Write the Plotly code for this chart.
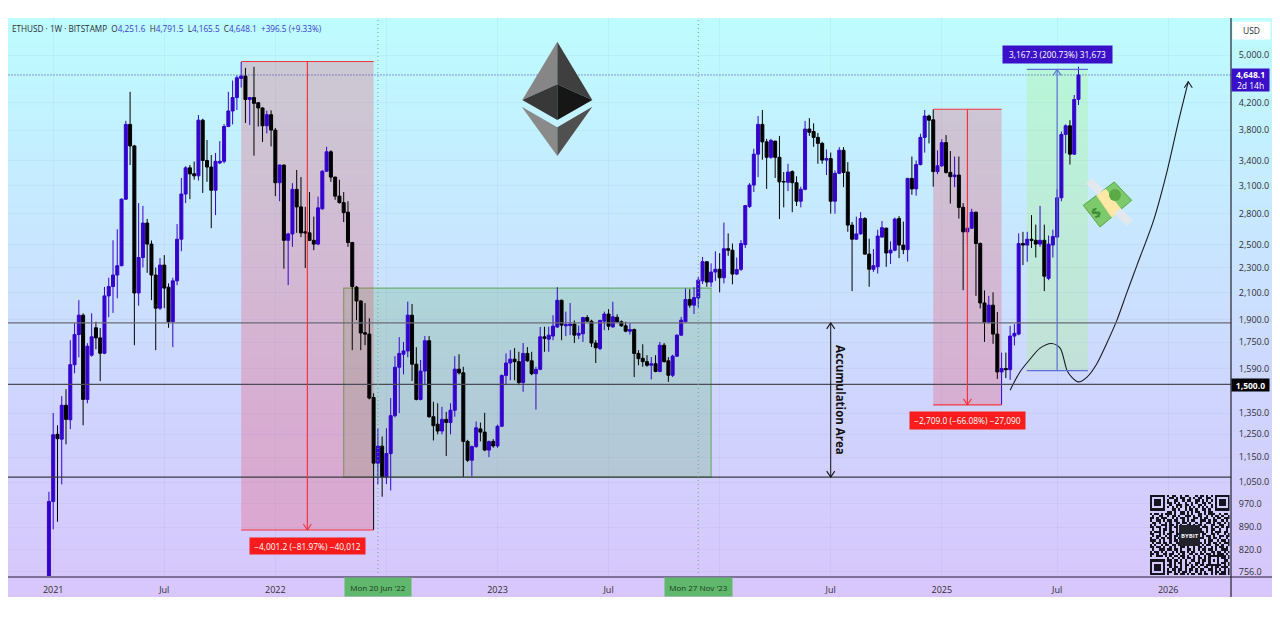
import plotly.graph_objects as go
import pandas as pd
import numpy as np

# Weekly ETHUSD candles, first bar is the week of 28 Dec 2020
first_week = "2020-12-28"
opens = [737,978,1250,1228,1390,1318,1612,1800,1932,1420,1669,1845,1778,1681,2073,2145,2237,2315,2952,3880,3586,2095,2385,2705,2505,2237,1982,2320,2140,1886,
         2190,2550,3008,3310,3240,3215,3940,3400,3320,3050,3370,3390,3850,4075,4280,4590,4630,4250,4280,4200,4120,3860,4020,3800,3135,3344,2540,2600,3060,2870,
         2620,2610,2540,2505,2850,3270,3510,3200,2985,2915,2815,2520,2140,2035,1812,1803,1430,1125,1197,1070,1165,1338,1597,1675,1695,1932,1615,1420,1575,1760,
         1333,1297,1265,1320,1305,1365,1586,1565,1218,1137,1195,1275,1260,1180,1218,1198,1287,1550,1622,1645,1630,1510,1680,1635,1560,1585,1785,1770,1790,1850,
         2040,1858,1860,1870,1796,1805,1915,1890,1745,1710,1890,1940,1850,1917,1886,1858,1822,1833,1680,1650,1630,1609,1618,1573,1731,1635,1551,1663,1796,1886,
         2046,2004,2057,2190,2349,2180,2262,2285,2215,2463,2450,2245,2285,2500,2873,3108,3480,3880,3640,3440,3650,3440,3150,3140,3265,3135,2930,3060,3815,3780,
         3700,3620,3405,3425,2930,3245,3530,3260,2685,2550,2600,2750,2415,2285,2305,2570,2655,2425,2450,2750,2496,2455,3185,3065,3350,3700,4000,3945,3265,3335,
         3630,3255,3205,3224,2865,2620,2655,2815,2510,2020,1880,2004,1803,1570,1590,1583,1790,1803,2510,2496,2550,2540,2505,2540,2210,2496,2570,2967,3740,3860,
         3480,4251.6]
highs = [1013,1351,1292,1437,1474,1763,1876,2041,1945,1744,1945,1886,1843,2142,2215,2540,2645,2960,3930,4370,3600,2910,2880,2747,2538,2300,2380,2406,2170,2215,
         2695,3190,3330,3345,3388,4015,3960,3665,3469,3495,3650,3885,4370,4555,4640,4875,4770,4285,4790,4210,4130,4080,4085,3830,3350,3350,2610,3130,3284,3200,
         2870,3030,2770,2980,3280,3575,3530,3205,3170,3030,2930,2525,2150,2040,2019,1910,1452,1278,1240,1278,1427,1663,1783,1752,2030,2012,1719,1640,1790,1790,
         1408,1400,1382,1357,1400,1663,1675,1600,1225,1200,1310,1305,1352,1222,1228,1295,1555,1680,1700,1713,1690,1745,1719,1690,1600,1850,1852,1852,1932,2140,
         2045,1957,2020,1895,1860,1920,1932,1900,1763,1900,1957,1975,2029,1938,1895,1886,1875,1840,1700,1737,1669,1657,1669,1752,1745,1657,1672,1800,1920,2130,
         2125,2140,2220,2390,2350,2335,2440,2423,2710,2605,2510,2385,2542,2890,3130,3550,4000,4090,3680,3680,3655,3720,3260,3360,3280,3210,3090,3930,3970,3895,
         3760,3640,3540,3500,3280,3570,3570,3380,2715,2770,2815,2765,2555,2460,2640,2725,2660,2530,2760,2775,2720,3190,3450,3400,3750,4090,4020,4100,3530,3675,
         3732,3520,3450,3450,2910,2790,2850,2820,2520,2115,2073,2100,1955,1685,1685,1858,1870,2605,2620,2620,2785,2690,2880,2690,2585,2640,3060,3780,3880,3940,
         4320,4791.5]
lows = [715,883,908,1041,1205,1274,1562,1656,1292,1400,1660,1706,1518,1675,1918,1948,2055,2310,2945,3344,1731,2000,2300,2255,2041,1700,1968,1982,1845,1719,
        2156,2441,2910,2952,3170,3160,3020,3145,2655,2785,3355,3365,3840,3880,4090,4440,3900,3871,3460,3850,3640,3755,3580,2985,2930,2290,2156,2480,2610,2570,
        2295,2535,2450,2495,2840,3260,3145,2945,2905,2715,2480,1700,1897,1700,1731,1420,881,1042,995,1042,1018,1330,1351,1556,1657,1519,1415,1415,1496,1328,
        1222,1250,1250,1155,1250,1333,1555,1069,1130,1072,1190,1218,1175,1150,1190,1190,1285,1496,1523,1523,1496,1460,1630,1551,1368,1580,1690,1690,1763,1845,
        1763,1790,1796,1745,1770,1752,1885,1720,1622,1700,1829,1829,1848,1880,1852,1815,1800,1541,1609,1600,1600,1528,1568,1568,1625,1514,1541,1660,1790,1880,
        1985,1940,1987,2165,2143,2143,2190,2100,2170,2400,2163,2237,2270,2470,2860,3030,3200,3410,3065,3420,3190,2745,2865,3040,2815,2880,2865,3050,3720,3575,
        3360,3360,3224,2800,2800,3235,3085,2620,2110,2545,2595,2410,2143,2263,2250,2565,2305,2330,2440,2380,2415,2350,3000,2990,3340,3500,3620,3090,3235,3320,
        3240,2905,3085,2750,2117,2500,2650,2073,1980,1752,1875,1740,1530,1392,1535,1525,1730,1795,2320,2348,2470,2385,2480,2110,2196,2385,2565,2930,3490,3350,
        3470,4165.5]
closes = [978,1248,1230,1390,1320,1612,1800,1932,1420,1725,1785,1778,1681,2073,2145,2237,2315,2952,3880,3586,2095,2385,2705,2505,2237,1982,2320,2133,1886,2190,
          2550,3008,3310,3237,3215,3940,3400,3320,3050,3390,3390,3850,4075,4280,4600,4630,4250,4280,4190,4120,3860,4020,3800,3135,3344,2540,2600,3060,2870,2610,
          2610,2540,2505,2860,3270,3510,3200,2985,2915,2810,2520,2145,2035,1810,1803,1427,1125,1197,1070,1165,1338,1597,1680,1695,1932,1615,1420,1575,1760,1333,
          1290,1265,1320,1305,1365,1586,1565,1218,1137,1195,1280,1260,1180,1217,1198,1287,1550,1622,1645,1630,1510,1680,1635,1560,1585,1785,1775,1796,1856,2040,
          1863,1866,1870,1796,1808,1915,1890,1745,1715,1895,1940,1856,1920,1886,1858,1822,1833,1680,1648,1630,1609,1618,1573,1731,1630,1551,1663,1796,1897,2046,
          2004,2060,2196,2349,2180,2262,2285,2215,2463,2450,2245,2282,2510,2883,3108,3480,3880,3640,3440,3660,3440,3145,3145,3260,3135,2930,3060,3815,3770,3700,
          3620,3405,3425,2930,3245,3530,3255,2685,2550,2600,2750,2415,2285,2315,2580,2660,2425,2450,2745,2496,2455,3185,3065,3350,3700,4000,3940,3265,3335,3630,
          3255,3205,3224,2865,2620,2655,2815,2510,2020,1880,2004,1803,1570,1590,1583,1790,1808,2510,2496,2550,2540,2505,2540,2228,2505,2575,2967,3740,3860,3480,
          4250,4648.1]

price_ticks = [5000,4200,3800,3400,3100,2800,2500,2300,2100,1900,1750,1590,1350,1250,1150,1050,970,890,820,756]
time_ticks = ["2021-01-04","2021-07-05","2022-01-03","2022-07-04","2023-01-02","2023-07-03","2024-01-01","2024-07-01","2024-12-30","2025-07-07","2026-01-05"]
# the Jul 2022 and 2024 labels sit behind the green crosshair tags in the picture
time_labels = ["2021","Jul","2022","","2023","Jul","","Jul","2025","Jul","2026"]

# levels and measure boxes
levels = [1878, 1500, 1069]
last_price = 4648.1
drop1 = {"start": 45, "end": 76, "mid": 60.5, "top": 4882, "bottom": 881}
drop2 = {"start": 207, "end": 223, "mid": 215, "top": 4101, "bottom": 1392}
rise = {"start": 228.9, "end": 243.2, "mid": 236, "top": 4744, "bottom": 1577}
accum = {"start": 69, "end": 155, "top": 2133, "bottom": 1069}

# hand drawn projection
curve_weeks = [225,227.3,229.7,232,234.7,236.7,238.3,239.4,241,243,245.3,247.6,250,252.3,254.7,258.6,261.8,264.3,266.7]
curve_prices = [1469,1570,1646,1713,1742,1713,1580,1541,1514,1541,1618,1742,1897,2096,2320,2735,3284,3895,4535]

UP = "#3404cc"
DOWN = "#000000"
FONT = "Open Sans"
# the page body keeps its 8px margin, so the figure is placed 8px in
W, H = 1280, 639
OFF = 8


def wk(k):
    # week index -> date on the time axis
    return pd.Timestamp(first_week) + pd.Timedelta(days=7 * k)


def px(x):
    return max(0, x - OFF) / (W - OFF)


def py(y):
    return 1 - (y - OFF) / (H - OFF)


def poly(points):
    return "M " + " L ".join(f"{px(x):.5f},{py(y):.5f}" for x, y in points) + " Z"


dates = pd.date_range(first_week, periods=len(closes), freq="7D")

fig = go.Figure()

# background gradient lives on the first axes so it stays under everything
fig.add_trace(go.Heatmap(
    x=[0, 1], y=[0, 1], z=[[0, 0], [1, 1]], zsmooth="best", showscale=False, hoverinfo="skip",
    colorscale=[[0, "#d8c6fc"], [0.33, "#cfd4fe"], [0.62, "#c8e6ff"], [1, "#bdfcff"]],
    xaxis="x", yaxis="y"))

fig.add_trace(go.Candlestick(
    x=dates, open=opens, high=highs, low=lows, close=closes, xaxis="x2", yaxis="y2",
    increasing=dict(line=dict(color=UP, width=1), fillcolor=UP),
    decreasing=dict(line=dict(color=DOWN, width=1), fillcolor=DOWN),
    whiskerwidth=0, showlegend=False))

fig.add_trace(go.Scatter(
    x=[wk(k) for k in curve_weeks], y=curve_prices, mode="lines", xaxis="x2", yaxis="y2",
    line=dict(color="#1a1a24", width=1.1, shape="spline", smoothing=0.8), showlegend=False, hoverinfo="skip"))

# QR code, rows
qr_rows = [
    "#######.#.##..#.##...#.##.#.#.#######",
    "#.....#..##.#.##..#.#.##..##..#.....#",
    "#.###.#.#..##..#.##..##.#.#.#.#.###.#",
    "#.###.#.##.#.#..#..#.#..##.#..#.###.#",
    "#.###.#..#..###.##.#..##.#..#.#.###.#",
    "#.....#.#.#.#.#.#.#.#.#.#.#.#.#.....#",
    "#######...##.#..#.##.#..##.#..#######",
    "........##.#..##.#.#.##..#.##........",
    "#.##.#.###.#..##.#.#..##.#.###..#.##.#",
    ".#..##..#.##.#..###.#.##..#.#.##.#..#",
    "##.#.###..#.#.##.#..##.#.##..#.##.###",
    "#..##.#.##.##..#.#.##..###.#.##..#.#.",
    ".##.#..#.#..##.##.#..#.#..##.#.##.#.#",
    "#.#..###.##.#.#..##.#.##.#..##..##..#",
    "##.##..#.#.##......#.#..###.#.##.#.##",
    ".#..#.##.#..#.......##.#..#.##..#..#.",
    "#.###.#..##.#........#.##.#.#.###.##.",
    "##..#.#.##..##.......#..##..##.#..#.#",
    ".#.##..#.#.##........##.#.##.#..##.##",
    "#..#.##.##.#.#.......#.##..#.##.#..#.",
    "###.#.#..#.##........##..#.##..#.##.#",
    ".#.##.##.#..##.#..#.#.##.#.#.##.#.###",
    "#.#..#.##.##.#.##.#.##..#.##..##.#..#",
    "##.##.#..#.#..##.#..#.##.#..#.#.##.#.",
    ".#..###.##.##.#..##.#.#.##.##.#..###.",
    "#.##.#.#..#.#.##.#.##..#.#..##.##.#.#",
    "##.#..##.##..#.#..##.#.##.##.#.###.#.",
    "#..###.#.#.##.##.#..#.#..#.########.#",
    "........#.#..#.#.##.#.##.#.#...#.##.#",
    "#######.##.##.#.#..##.#.##.#.#.#..##.",
    "#.....#..#.#.##.#.#..##.#..#...#.##.#",
    "#.###.#.##.#..#.##.#.#.##.#######.#.#",
    "#.###.#..#.##.#.#..##.#..##.#.##.###.",
    "#.###.#.#.##.##.#.##.#.##..##.#.#.#.#",
    "#.....#.##.#.#.##.#..#.#.#..#.##.##.#",
    "#######.#..##.##.#.##.##.##.#.#.###.#",
]
qr = [[1 if c == "#" else 0 for c in row.ljust(37, ".")[:37]] for row in qr_rows]
fig.add_trace(go.Heatmap(
    z=qr, showscale=False, hoverinfo="skip", xaxis="x3", yaxis="y3", zmin=0, zmax=1,
    colorscale=[[0, "rgba(0,0,0,0)"], [0.5, "rgba(0,0,0,0)"], [0.5, "#14141f"], [1, "#14141f"]]))

shapes = []


def rect(s, fill, line=None):
    shapes.append(dict(type="rect", xref="x2", yref="y2", x0=wk(s["start"]), x1=wk(s["end"]), y0=s["bottom"], y1=s["top"],
                       fillcolor=fill, layer="below", line=dict(color=line, width=1.2) if line else dict(width=0)))


def hline(price, color, width, dash="solid", k0=-20, k1=290):
    shapes.append(dict(type="line", xref="x2", yref="y2", x0=wk(k0), x1=wk(k1), y0=price, y1=price,
                       line=dict(color=color, width=width, dash=dash)))


def vline(k, p0, p1, color, width=1.2, dash="solid"):
    shapes.append(dict(type="line", xref="x2", yref="y2", x0=wk(k), x1=wk(k), y0=p0, y1=p1,
                       line=dict(color=color, width=width, dash=dash)))


def chevron(k, price, up, color):
    # small open arrow head, sized in pixels and anchored on the data
    s = -6 if up else 6
    shapes.append(dict(type="path", xref="x2", yref="y2", xsizemode="pixel", ysizemode="pixel",
                       xanchor=wk(k), yanchor=price, path=f"M -4,{s} L 0,0 L 4,{s}",
                       line=dict(color=color, width=1.1)))


rect(accum, "rgba(76,175,80,0.22)", "#6bb36e")
rect(drop1, "rgba(242,54,69,0.24)")
rect(drop2, "rgba(242,54,69,0.24)")
rect(rise, "rgba(170,245,130,0.30)")

for p, c, w in zip(levels, ["#6a6a78", "#4c4c58", "#3a3a46"], [1.4, 1.4, 1.1]):
    hline(p, c, w)
hline(last_price, "#3a3aa8", 1, "1px,2px")
for d in ["2022-06-20", "2023-11-27"]:
    shapes.append(dict(type="line", xref="x2", yref="paper", x0=d, x1=d, y0=py(577), y1=py(18),
                       line=dict(color="#66ad7c", width=1, dash="1px,3px")))

# measure tools
for m in [drop1, drop2]:
    for p in [m["top"], m["bottom"]]:
        hline(p, "#f4343c", 1.1, k0=m["start"], k1=m["end"])
    vline(m["mid"], m["top"], m["bottom"], "#f4343c")
    chevron(m["mid"], m["bottom"], False, "#f4343c")
for p in [rise["top"], rise["bottom"]]:
    hline(p, "#5b6fd6", 1.3, k0=rise["start"], k1=rise["end"])
vline(rise["mid"], rise["bottom"], rise["top"], "#5b6fd6")
chevron(rise["mid"], rise["top"], True, "#5b6fd6")
chevron(curve_weeks[-1], curve_prices[-1], True, "#1a1a24")

# accumulation arrow
vline(183, levels[0], levels[2], "#111111", 1)
chevron(183, levels[0], True, "#111111")
chevron(183, levels[2], False, "#111111")

# axis lines
shapes.append(dict(type="line", xref="paper", yref="paper", x0=px(7), x1=px(1273), y0=py(577), y1=py(577),
                   line=dict(color="#7d7099", width=2)))
shapes.append(dict(type="line", xref="paper", yref="paper", x0=px(1231), x1=px(1231), y0=py(18), y1=py(597),
                   line=dict(color="#23232e", width=1.2)))

# ethereum logo
logo = [([(557.3, 41.7), (522.3, 100), (557.3, 84.3)], "#868686"),
        ([(557.3, 41.7), (592.3, 100), (557.3, 84.3)], "#3f3f3f"),
        ([(522.3, 100), (557.3, 84.3), (557.3, 120)], "#383838"),
        ([(592.3, 100), (557.3, 84.3), (557.3, 120)], "#161616"),
        ([(521.7, 106.7), (557.3, 127.3), (557.3, 156)], "#8a8a8a"),
        ([(592.3, 106.7), (557.3, 127.3), (557.3, 156)], "#505050")]
for pts, c in logo:
    shapes.append(dict(type="path", xref="paper", yref="paper", path=poly(pts), fillcolor=c, line=dict(width=0)))

# flying money drawing
money = [([(1083.3, 205.3), (1114.3, 182), (1131.7, 200.3), (1100, 227)], "#7cca6b", "#55a64a"),
         ([(1096.7, 195.3), (1105.7, 189.3), (1121.7, 210.3), (1111.7, 217)], "#ffe7a6", "#ffe7a6")]
for pts, c, lc in money:
    shapes.append(dict(type="path", xref="paper", yref="paper", path=poly(pts), fillcolor=c, line=dict(color=lc, width=1)))
shapes.append(dict(type="circle", xref="paper", yref="paper", x0=px(1109), x1=px(1121), y0=py(201), y1=py(189),
                   fillcolor="#5aaa48", line=dict(width=0)))
for (x0, y0, x1, y1) in [(1089, 181, 1101, 192), (1117, 211, 1130, 223)]:
    shapes.append(dict(type="line", xref="paper", yref="paper", x0=px(x0), x1=px(x1), y0=py(y0), y1=py(y1),
                       line=dict(color="#e3e8ee", width=8)))

# dark tile in the middle of the QR code
shapes.append(dict(type="rect", xref="paper", yref="paper", x0=px(1179), x1=px(1200), y0=py(546), y1=py(525),
                   fillcolor="#22222c", line=dict(width=0)))

annotations = []


def text(x, y, s, size=9.5, color="#2e2e38", **kw):
    annotations.append(dict(xref="paper", yref="paper", x=px(x), y=py(y), text=s, showarrow=False,
                            font=dict(family=FONT, size=size, color=color), **kw))


def box(x0, x1, y0, y1, s, bg, color="#ffffff", size=8.4):
    annotations.append(dict(xref="paper", yref="paper", x=px((x0 + x1) / 2), y=py((y0 + y1) / 2), text=s, showarrow=False,
                            width=x1 - x0, height=y1 - y0, bgcolor=bg, borderpad=0, xanchor="center", yanchor="middle",
                            font=dict(family=FONT, size=size, color=color)))


blue = "#3a3ad0"
header = ("ETHUSD · 1W · BITSTAMP &nbsp;"
          f"O<span style='color:{blue}'>4,251.6</span> &nbsp;H<span style='color:{blue}'>4,791.5</span> &nbsp;"
          f"L<span style='color:{blue}'>4,165.5</span> &nbsp;C<span style='color:{blue}'>4,648.1</span> &nbsp;"
          f"<span style='color:{blue}'>+396.5 (+9.33%)</span>")
text(10, 29, header, size=8.2, xanchor="left", yanchor="middle")

box(1233, 1270, 22, 39, "USD", "#ffffff", "#2e2e38", 8.5)
box(1232, 1269, 69, 91, "<b>4,648.1</b><br>2d 14h", "#3a10c8", size=8.5)
box(1232, 1269, 379, 391, "<b>1,500.0</b>", "#000000", size=8.5)
box(250, 365, 538, 554, "−4,001.2 (−81.97%) −40,012", "#f81c1c")
box(910, 1025, 412, 429, "−2,709.0 (−66.08%) −27,090", "#f81c1c")
box(1003, 1112, 46, 63, "3,167.3 (200.73%) 31,673", "#3a10c8")
box(345, 411, 578, 596, "Mon 20 Jun '22", "#5fb86b", "#1e3a22", 8)
box(665, 732, 578, 596, "Mon 27 Nov '23", "#5fb86b", "#1e3a22", 8)
text(841, 400, "<b>Accumulation Area</b>", size=11.5, color="#111111", textangle=90, xanchor="center", yanchor="middle")
text(1095.7, 212.7, "<b>$</b>", size=14, color="#3d8a3a", textangle=-38, xanchor="center", yanchor="middle")
text(1189.5, 535.5, "<b>BYBIT</b>", size=6, color="#f0f0f0", xanchor="center", yanchor="middle")

axis_font = dict(family=FONT, size=9, color="#2e2e38")
fig.update_layout(
    width=W - OFF, height=H - OFF, margin=dict(l=0, r=0, t=0, b=0), paper_bgcolor="#ffffff", plot_bgcolor="rgba(0,0,0,0)",
    showlegend=False, boxgap=0.3, boxgroupgap=0, shapes=shapes, annotations=annotations, font=axis_font,
    xaxis=dict(domain=[px(8), px(1273)], range=[0, 1], visible=False, fixedrange=True),
    yaxis=dict(domain=[py(597), py(18)], range=[0, 1], visible=False, fixedrange=True),
    xaxis2=dict(domain=[px(8), px(1231)], anchor="y2", type="date", range=[wk(-9.58), wk(276.7)],
                tickvals=time_ticks, ticktext=time_labels, tickfont=axis_font, ticks="outside", ticklen=4,
                tickcolor="rgba(0,0,0,0)", showgrid=True, gridcolor="rgba(110,130,200,0.08)", gridwidth=1,
                rangeslider=dict(visible=False), showline=False, zeroline=False),
    yaxis2=dict(domain=[py(577), py(18)], anchor="x2", side="right", type="log",
                range=[np.log10(742), np.log10(5724)], tickvals=price_ticks,
                ticktext=[f"{v:,.1f}" for v in price_ticks], tickfont=axis_font, ticks="outside", ticklen=5,
                tickcolor="rgba(0,0,0,0)", showgrid=True, gridcolor="rgba(110,130,200,0.08)", gridwidth=1,
                showline=False, zeroline=False),
    xaxis3=dict(domain=[px(1150), px(1229.5)], anchor="y3", visible=False, fixedrange=True),
    yaxis3=dict(domain=[py(575), py(495)], anchor="x3", visible=False, fixedrange=True, autorange="reversed"),
)

fig.write_html("out.html")
